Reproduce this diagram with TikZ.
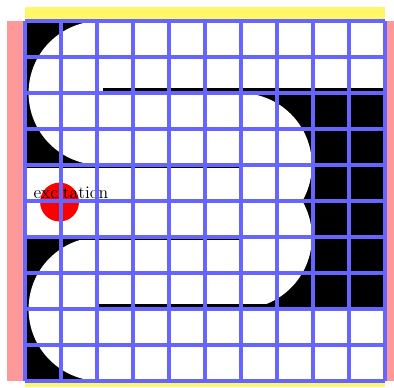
\documentclass[tikz,border=0pt]{standalone}
\usepackage{tikz}
\usetikzlibrary{positioning}

\begin{document}
\begin{tikzpicture}[
  gridLine/.style={draw=blue!60, line width=2.5pt},
  wallLine/.style={draw=black, line width=2pt},
  sideBar/.style={fill=red!40},
  endBar/.style={fill=yellow!60},
  redDot/.style={circle, fill=red, minimum size=1.08cm, inner sep=0pt},
  excText/.style={font=\fontsize{14}{16}\selectfont, inner sep=0pt, anchor=base}
]
  \useasboundingbox (-0.694,-0.167) rectangle (10.25,10.583);

  % Boundary bars
  \fill[sideBar] (-0.5,0) rectangle (-0.056,10);
  \fill[sideBar] (10.056,0) rectangle (10.25,10);
  \fill[endBar] (0,10.056) rectangle (10,10.39);
  \fill[endBar] (0,-0.167) rectangle (10,-0.03);

  % Background and channel
  \fill[black] (0,0) rectangle (10,10);
  \fill[white] (10,10) -- (2.1,10) arc[start angle=90, end angle=270, radius=2]
    -- (0,6) -- (0,4) -- (2.1,4) arc[start angle=90, end angle=270, radius=2]
    -- (10,0) -- (10,2) -- (5.97,2) arc[start angle=-90, end angle=30, radius=2]
    arc[start angle=-30, end angle=90, radius=2] -- (10,8) -- cycle;

  % Walls
  \draw[wallLine] (2.17,8.1) -- (10,8.1);
  \draw[wallLine] (0,5.94) -- (6,5.94);
  \draw[wallLine] (0,3.94) -- (6,3.94);
  \draw[wallLine] (2,2.1) -- (10,2.1);

  % Excitation
  \node[redDot] (exc) at (0.96,4.97) {};
  \node[excText] (excLabel) at (1.275,5.08) {excitation};

  % Lattice
  \draw[gridLine] (0,0) grid (10,10);
\end{tikzpicture}
\end{document}
